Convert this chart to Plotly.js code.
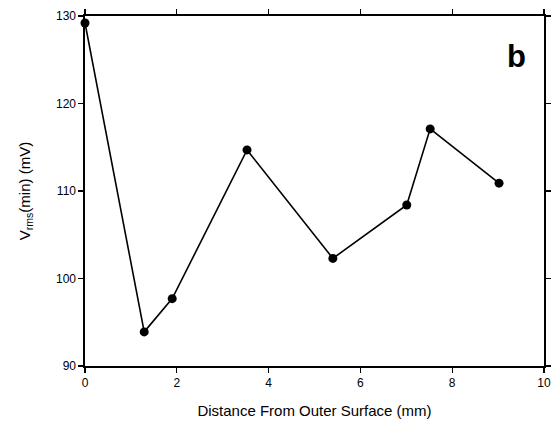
<!DOCTYPE html>
<html>
<head>
<meta charset="utf-8">
<script src="https://cdn.plot.ly/plotly-3.0.1.min.js"></script>
<style>html,body{margin:0;padding:0;background:#fff;}#chart{width:559px;height:426px;}</style>
</head>
<body>
<div id="chart"></div>
<script>
const distance = [0.0, 1.29, 1.90, 3.53, 5.40, 7.01, 7.52, 9.02];
const vrmsMin = [129.2, 93.9, 97.7, 114.7, 102.3, 108.4, 117.1, 110.9];
const xTicks = [0, 2, 4, 6, 8, 10];
const yTicks = [90, 100, 110, 120, 130];

const trace = {
  x: distance, y: vrmsMin, type: 'scatter', mode: 'lines+markers',
  line: {color: '#000', width: 1.6},
  marker: {color: '#000', size: 9},
  cliponaxis: false, showlegend: false
};
const axisCommon = {
  showline: true, linecolor: '#000', linewidth: 1.6, mirror: 'ticks',
  ticks: 'outside', ticklen: 5, tickwidth: 1.3, tickcolor: '#000',
  showgrid: false, zeroline: false,
  tickfont: {family: 'Liberation Sans Narrow, Arial, sans-serif', size: 12, color: '#000'}
};
const layout = {
  width: 559, height: 426,
  margin: {l: 85, r: 15, t: 16, b: 60},
  paper_bgcolor: '#fff', plot_bgcolor: '#fff',
  font: {family: 'Liberation Sans, Arial, sans-serif', color: '#000'},
  xaxis: Object.assign({}, axisCommon, {
    range: [0, 10], tickvals: xTicks, ticktext: xTicks.map(String),
    title: {text: 'Distance From Outer Surface (mm)', font: {size: 15}, standoff: 16}
  }),
  yaxis: Object.assign({}, axisCommon, {
    range: [90, 130], tickvals: yTicks, ticktext: yTicks.map(String),
    title: {text: 'V<sub>rms</sub>(min) (mV)', font: {size: 15}, standoff: 22}
  }),
  annotations: [{
    text: '<b>b</b>', xref: 'paper', yref: 'paper', x: 0.941, y: 0.885,
    xanchor: 'center', yanchor: 'middle',
    showarrow: false, font: {size: 31, family: 'Liberation Sans, Arial, sans-serif', color: '#000'}
  }]
};
Plotly.newPlot('chart', [trace], layout, {staticPlot: true, displayModeBar: false});
</script>
</body>
</html>
